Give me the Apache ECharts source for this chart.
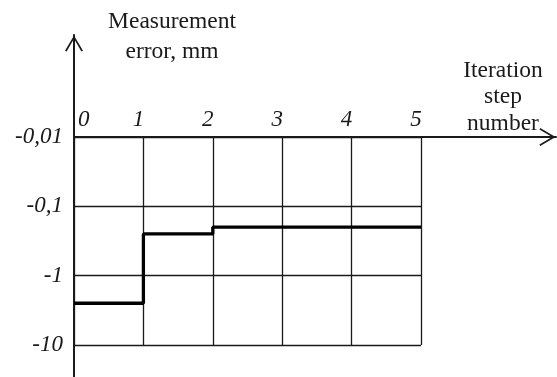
<!DOCTYPE html>
<html>
<head>
<meta charset="utf-8">
<script src="https://cdn.jsdelivr.net/npm/echarts@6/dist/echarts.min.js"></script>
<style>
  html, body { margin: 0; padding: 0; background: #fff; }
  #chart { width: 557px; height: 377px; }
</style>
</head>
<body>
<div id="chart"></div>
<script>
// Iteration steps and the measurement error reached after each of them (mm)
const iterationSteps = [0, 1, 2, 3, 4, 5];
const measurementErrors = [-2.5, -0.25, -0.2, -0.2, -0.2, -0.2];
// Decades shown on the logarithmic error axis
const errorTicks = [-0.01, -0.1, -1, -10];
const yAxisTitle = 'Measurement\nerror, mm';
const xAxisTitle = 'Iteration\nstep\nnumber';

const SERIF = '"Liberation Serif", "Times New Roman", serif';
const INK = '#1a1a1a';
const TICK_FONT = 23;

// open chevron used as arrow head on the axis lines (tip at the top)
const chevron = 'path://M0,0 L10,17 L8.2,17.9 L0,3.8 L-8.2,17.9 L-10,17 Z';
const arrowSize = [18, 17];

// the log axis works on magnitudes; labels put the minus sign back
const errMin = Math.min(...errorTicks.map(Math.abs));
const errMax = Math.max(...errorTicks.map(Math.abs));
const fmtError = v => {
  const t = errorTicks.find(e => Math.abs(Math.abs(e) - v) < 1e-9 * Math.abs(e));
  const val = t !== undefined ? t : -v;
  return String(val).replace('.', ',');
};

const arrowAxisLine = {
  show: true,
  onZero: true,
  symbol: ['none', chevron],
  symbolSize: arrowSize,
  symbolOffset: [0, -arrowSize[1] / 2],
  lineStyle: { color: INK, width: 2 }
};

const chart = echarts.init(document.getElementById('chart'), null, { renderer: 'canvas' });

chart.setOption({
  backgroundColor: '#fff',
  animation: false,
  grid: [
    { left: 74, top: 137, right: 136, bottom: 32 },
    { left: 74, top: 35, right: 1, bottom: 0 }
  ],
  xAxis: [
    {
      gridIndex: 0,
      type: 'value',
      position: 'top',
      min: iterationSteps[0],
      max: iterationSteps[iterationSteps.length - 1],
      interval: 1,
      axisLine: { show: false },
      axisTick: { show: false },
      splitLine: { show: true, lineStyle: { color: INK, width: 1.3 } },
      axisLabel: {
        margin: 6,
        alignMinLabel: 'left',
        padding: [0, 10, 0, 0],
        formatter: v => (v === 0 ? '{z|' + v + '}' : '{n|' + v + '}'),
        rich: {
          z: { fontFamily: SERIF, fontStyle: 'italic', fontSize: TICK_FONT, color: INK, padding: [0, 0, 0, 4] },
          n: { fontFamily: SERIF, fontStyle: 'italic', fontSize: TICK_FONT, color: INK }
        }
      }
    },
    {
      gridIndex: 1,
      type: 'value',
      min: 0,
      max: 1,
      axisLine: arrowAxisLine,
      axisTick: { show: false },
      axisLabel: { show: false },
      splitLine: { show: false }
    }
  ],
  yAxis: [
    {
      gridIndex: 0,
      type: 'log',
      logBase: 10,
      min: errMin,
      max: errMax,
      inverse: true,
      axisLine: { show: false },
      axisTick: { show: false },
      splitLine: { show: true, lineStyle: { color: INK, width: 1.3 } },
      axisLabel: {
        margin: 11,
        fontFamily: SERIF,
        fontStyle: 'italic',
        fontSize: TICK_FONT,
        color: INK,
        formatter: fmtError
      }
    },
    {
      gridIndex: 1,
      type: 'value',
      min: -240,
      max: 102,
      axisLine: arrowAxisLine,
      axisTick: { show: false },
      axisLabel: { show: false },
      splitLine: { show: false }
    }
  ],
  graphic: [
    {
      type: 'text',
      x: 172, y: 7,
      style: {
        text: yAxisTitle,
        font: '23.5px ' + SERIF,
        fill: INK,
        align: 'center',
        verticalAlign: 'top',
        lineHeight: 30
      }
    },
    {
      type: 'text',
      x: 503, y: 57,
      style: {
        text: xAxisTitle,
        font: '23.5px ' + SERIF,
        fill: INK,
        align: 'center',
        verticalAlign: 'top',
        lineHeight: 26.7
      }
    }
  ],
  series: [
    {
      type: 'line',
      xAxisIndex: 0,
      yAxisIndex: 0,
      step: 'end',
      showSymbol: false,
      silent: true,
      z: 5,
      lineStyle: { color: '#000', width: 3.3 },
      data: iterationSteps.map((s, i) => [s, Math.abs(measurementErrors[i])])
    }
  ]
});
</script>
</body>
</html>
